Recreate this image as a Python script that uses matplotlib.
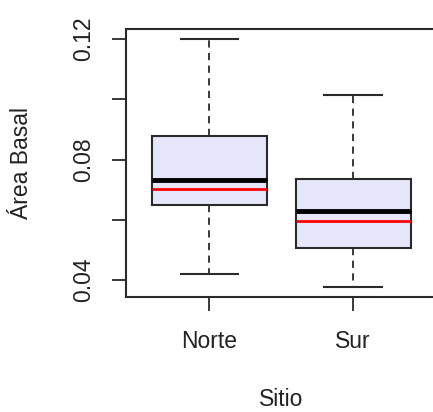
import matplotlib
matplotlib.use("Agg")
import matplotlib.pyplot as plt

plt.rcParams['font.family'] = ['Liberation Sans', 'DejaVu Sans']

categories = ["Norte", "Sur"]
whislo = [0.0419, 0.0377]
q1 = [0.0648, 0.0505]
med = [0.0731, 0.0628]
mean = [0.0703, 0.0597]
q3 = [0.0877, 0.0735]
whishi = [0.1200, 0.1015]

yticks = [0.04, 0.06, 0.08, 0.10, 0.12]
yticklabels = ["0.04", "", "0.08", "", "0.12"]

W, H = 433, 412
fig = plt.figure(figsize=(W / 100, H / 100), dpi=100)
left, right, top, bottom = 126, 436.4, 29, 297
ax = fig.add_axes([left / W, 1 - bottom / H, (right - left) / W, (bottom - top) / H])

stats = []
for i, c in enumerate(categories):
    stats.append(dict(label=c, whislo=whislo[i], q1=q1[i], med=med[i],
                      mean=mean[i], q3=q3[i], whishi=whishi[i], fliers=[]))

edge = '#2a2a2a'
ax.bxp(stats, positions=[1, 2], widths=0.8, patch_artist=True,
       showmeans=True, meanline=True, showfliers=False,
       boxprops=dict(facecolor='#E6E6FA', edgecolor=edge, linewidth=1.5),
       medianprops=dict(color='black', linewidth=3.5),
       meanprops=dict(color='red', linewidth=2, linestyle='-'),
       whiskerprops=dict(color=edge, linewidth=1.3, linestyle=(0, (4, 3))),
       capprops=dict(color=edge, linewidth=1.5),
       capwidths=0.4)

ax.set_xlim(0.42, 2.58)
ax.set_ylim(0.0343, 0.1234)
ax.set_yticks(yticks)
ax.set_yticklabels(yticklabels, rotation=90, va='center')
ax.set_xticks([1, 2])
ax.set_xticklabels(categories)

for s in ax.spines.values():
    s.set_color(edge)
    s.set_linewidth(1.5)

ax.tick_params(axis='both', direction='out', length=10, width=1.3, color=edge,
               labelsize=16.5, labelcolor='#222222')
ax.tick_params(axis='y', pad=12)
ax.tick_params(axis='x', pad=14)

ax.set_xlabel('Sitio', fontsize=16.5, color='#222222')
ax.xaxis.label.set_va('center')
ax.xaxis.set_label_coords(0.5, (bottom - 400) / (bottom - top))
ax.set_ylabel('Área Basal', fontsize=16.5, color='#222222')
ax.yaxis.label.set_va('center')
ax.yaxis.set_label_coords((22 - left) / (right - left), 0.5)

fig.savefig('out.png', dpi=100)
